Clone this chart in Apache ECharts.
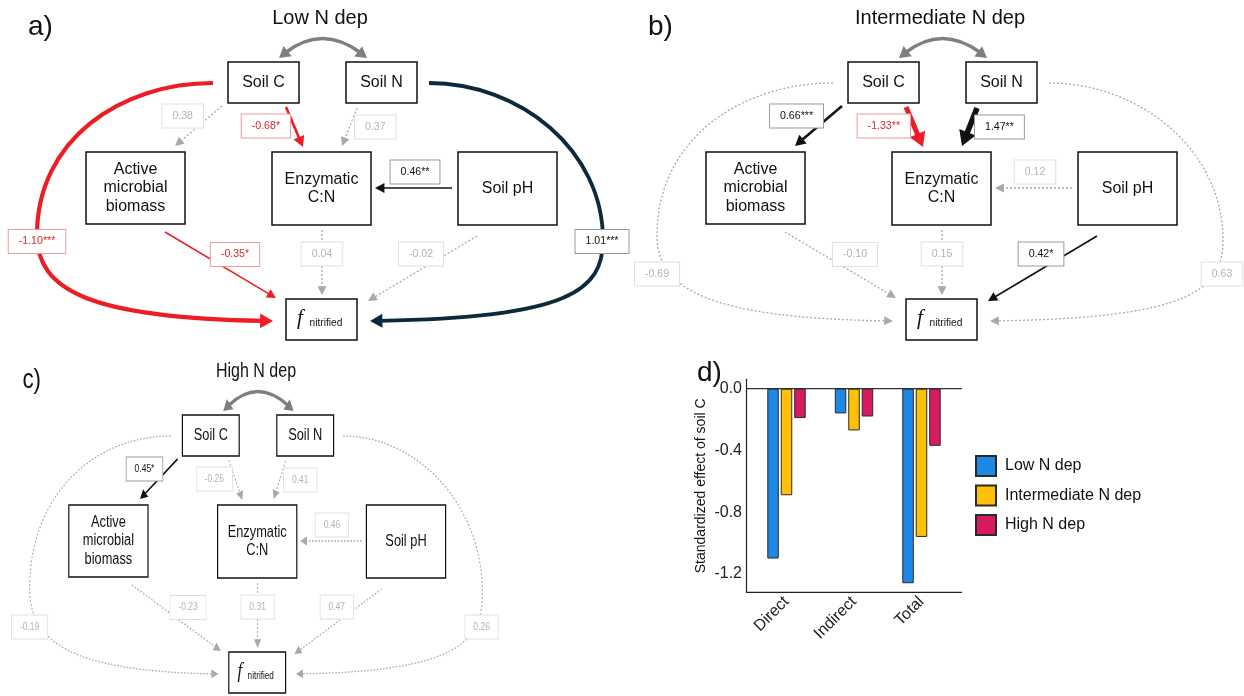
<!DOCTYPE html>
<html>
<head>
<meta charset="utf-8">
<script src="https://cdn.jsdelivr.net/npm/echarts@6/dist/echarts.min.js"></script>
<style>
  html, body { margin: 0; background: #fff; }
  #main { width: 1244px; height: 696px; }
</style>
</head>
<body>
<div id="main"></div>
<script>
// ---- panel d: standardized effect of soil C
const effectTypes = ['Direct', 'Indirect', 'Total']
const lowNdep = [-1.10, -0.16, -1.26]
const intermediateNdep = [-0.69, -0.27, -0.96]
const highNdep = [-0.19, -0.18, -0.37]
const yTicks = [0, -0.4, -0.8, -1.2]

// ---- panels a-c: path coefficients, same order as pathList
const pathList = ['C-AMB', 'C-Enz', 'N-Enz', 'pH-Enz', 'AMB-f', 'Enz-f', 'pH-f', 'C-f', 'N-f']
const lowCoef = [0.38, -0.68, 0.37, 0.46, -0.35, 0.04, -0.02, -1.10, 1.01]
const lowSig = ['', '*', '', '**', '*', '', '', '***', '***']
const intCoef = [0.66, -1.33, 1.47, 0.12, -0.10, 0.15, 0.42, -0.69, 0.63]
const intSig = ['***', '**', '**', '', '', '', '*', '', '']
const highCoef = [0.45, -0.26, 0.41, 0.46, -0.23, 0.31, 0.47, -0.19, 0.26]
const highSig = ['*', '', '', '', '', '', '', '', '']

const FONT = '"Liberation Sans", Arial, Helvetica, sans-serif'

// diagram layout (panel a coordinates)
const nodes = [
  { x: 228, y: 62, w: 71, h: 41, text: 'Soil C' },
  { x: 346, y: 62, w: 71, h: 41, text: 'Soil N' },
  { x: 86, y: 152, w: 99, h: 72, text: 'Active\nmicrobial\nbiomass' },
  { x: 272, y: 152, w: 99, h: 73, text: 'Enzymatic\nC:N' },
  { x: 458, y: 152, w: 99, h: 73, text: 'Soil pH' },
  { x: 286, y: 299, w: 71, h: 41, text: '' }
]
const edgeGeom = [
  { line: [222, 106, 175, 146], lx: 203, ly: 116, anchor: 'right' },
  { line: [286, 107, 303, 147], lx: 290, ly: 126, anchor: 'right' },
  { line: [357, 108, 342, 146], lx: 355, ly: 127, anchor: 'left' },
  { line: [452, 188, 375, 188], lx: 415, ly: 172, anchor: 'center' },
  { line: [165, 232, 276, 298], lx: 235, ly: 254.5, anchor: 'center' },
  { line: [322, 230, 322, 295], lx: 322, ly: 254, anchor: 'center' },
  { line: [477, 236, 368, 301], lx: 421, ly: 254, anchor: 'center' },
  { curve: [[213, 83, 120, 83, 37, 140, 37, 235], [37, 235, 37, 290, 90, 318, 273, 321]], lx: 37, anchor: 'center' },
  { curve: [[429, 83, 520, 83, 603, 150, 603, 240], [603, 240, 603, 290, 570, 318, 370, 321]], lx: 602, anchor: 'center' }
]

const panels = [
  { coef: lowCoef, sig: lowSig, title: 'Low N dep', letter: 'a)', x: 0, y: 0, sx: 1, curveLabelY: 241.5, override: { 8: '#0E2A3A' } },
  { coef: intCoef, sig: intSig, title: 'Intermediate N dep', letter: 'b)', x: 620, y: 0, sx: 1, curveLabelY: 274, override: {} },
  { coef: highCoef, sig: highSig, title: 'High N dep', letter: 'c)', x: 0, y: 353, sx: 0.8, curveLabelY: 274, override: {} }
]

function text(x, y, str, font, color, align, vAlign, extra) {
  return {
    type: 'text', x: x, y: y,
    style: Object.assign({
      text: str, font: font, fill: color,
      align: align, textAlign: align, verticalAlign: vAlign, textVerticalAlign: vAlign
    }, extra || {})
  }
}

function arrowHead(tx, ty, fx, fy, len, hw, color) {
  const dx = tx - fx, dy = ty - fy, d = Math.hypot(dx, dy)
  const ux = dx / d, uy = dy / d
  const bx = tx - ux * len, by = ty - uy * len
  return {
    type: 'polygon',
    shape: { points: [[tx, ty], [bx - uy * hw, by + ux * hw], [bx + uy * hw, by - ux * hw]] },
    style: { fill: color }
  }
}

function edgeLook(coef, sig, override) {
  if (!sig) {
    return { color: '#A9A9A9', width: 1.3, dash: [2, 2], text: '#B3B3B3', border: '#E0E0E0' }
  }
  const neg = coef < 0
  return {
    color: override || (neg ? '#EE1C24' : '#111'),
    width: Math.max(1.5, 3.8 * Math.abs(coef)),
    dash: null,
    text: neg ? '#D42A2A' : '#111',
    border: neg ? '#EB9B9B' : '#9A9A9A'
  }
}

function strokeStyle(look) {
  return { stroke: look.color, lineWidth: look.width, lineDash: look.dash, fill: 'none' }
}

function buildPanel(p) {
  const lines = [], labels = []
  edgeGeom.forEach((g, i) => {
    const look = edgeLook(p.coef[i], p.sig[i], p.override[i])
    const len = 7 + 1.4 * look.width, hw = 3.2 + look.width
    if (g.line) {
      const [x1, y1, x2, y2] = g.line
      const d = Math.hypot(x2 - x1, y2 - y1), ux = (x2 - x1) / d, uy = (y2 - y1) / d
      lines.push({ type: 'line', shape: { x1: x1, y1: y1, x2: x2 - ux * len * 0.8, y2: y2 - uy * len * 0.8 }, style: strokeStyle(look) })
      lines.push(arrowHead(x2, y2, x1, y1, len, hw, look.color))
    } else {
      const [s1, s2] = g.curve
      lines.push({ type: 'bezierCurve', shape: { x1: s1[0], y1: s1[1], cpx1: s1[2], cpy1: s1[3], cpx2: s1[4], cpy2: s1[5], x2: s1[6], y2: s1[7] }, style: strokeStyle(look) })
      const tx = s2[6], ty = s2[7], fx = s2[4], fy = s2[5]
      const d = Math.hypot(tx - fx, ty - fy), ux = (tx - fx) / d, uy = (ty - fy) / d
      lines.push({ type: 'bezierCurve', shape: { x1: s2[0], y1: s2[1], cpx1: s2[2], cpy1: s2[3], cpx2: s2[4], cpy2: s2[5], x2: tx - ux * len * 0.8, y2: ty - uy * len * 0.8 }, style: strokeStyle(look) })
      lines.push(arrowHead(tx, ty, fx, fy, len, hw, look.color))
    }
    const ly = g.curve ? p.curveLabelY : g.ly
    labels.push(text(g.lx, ly, p.coef[i].toFixed(2) + p.sig[i], '10.6px ' + FONT, look.text, g.anchor, 'middle', {
      backgroundColor: '#fff', borderColor: look.border, borderWidth: 1, padding: [6, 10]
    }))
  })

  // correlation between soil C and soil N
  const corr = [285, 53, 322, 24, 361, 53]
  const grey = '#7F7F7F'
  const corrEls = [
    { type: 'bezierCurve', shape: { x1: corr[0], y1: corr[1], cpx1: corr[2], cpy1: corr[3], x2: corr[4], y2: corr[5] }, style: { stroke: grey, lineWidth: 3.5, fill: 'none' } },
    arrowHead(279, 58, corr[2], corr[3], 11, 6.5, grey),
    arrowHead(367, 58, corr[2], corr[3], 11, 6.5, grey)
  ]

  const boxes = []
  nodes.forEach(n => {
    boxes.push({ type: 'rect', shape: { x: n.x, y: n.y, width: n.w, height: n.h }, style: { fill: '#fff', stroke: '#111', lineWidth: 1.5 } })
    if (n.text) {
      boxes.push(text(n.x + n.w / 2, n.y + n.h / 2, n.text, '16px ' + FONT, '#111', 'center', 'middle', { lineHeight: 18.7 }))
    }
  })
  const fn = nodes[5]
  boxes.push(text(fn.x + 11, fn.y + 19.5, 'f', 'italic 21px "Liberation Serif", "Times New Roman", serif', '#111', 'left', 'middle'))
  boxes.push(text(fn.x + 23.5, fn.y + 29.5, 'nitrified', '10.2px ' + FONT, '#111', 'left', 'bottom'))

  const heads = [
    text(28, 27, p.letter, '28px ' + FONT, '#111', 'left', 'middle'),
    text(320, 18.5, p.title, '20px ' + FONT, '#111', 'center', 'middle')
  ]

  return {
    type: 'group', x: p.x, y: p.y, scaleX: p.sx, scaleY: 1,
    children: lines.concat(corrEls, boxes, labels, heads)
  }
}

const chart = echarts.init(document.getElementById('main'))

const seriesNames = ['Low N dep', 'Intermediate N dep', 'High N dep']
const seriesData = [lowNdep, intermediateNdep, highNdep]
const barColors = ['#1E88E5', '#FFC107', '#D81B60']

chart.setOption({
  animation: false,
  textStyle: { fontFamily: FONT },
  grid: { left: 752.75, top: 379.3, width: 202.5, height: 213, containLabel: false, outerBoundsMode: 'none' },
  legend: {
    orient: 'vertical', left: 975, top: 455, padding: 0,
    itemWidth: 20, itemHeight: 20, itemGap: 7.5, icon: 'rect',
    textStyle: { fontSize: 16, color: '#111', padding: [0, 0, 0, 4] },
    data: seriesNames
  },
  xAxis: {
    type: 'category', data: effectTypes,
    axisLine: { show: false },
    axisTick: { show: true, alignWithLabel: true, length: 4, lineStyle: { color: '#333' } },
    axisLabel: { rotate: 45, fontSize: 16, color: '#222', margin: 7, interval: 0 },
    splitLine: { show: false }
  },
  yAxis: {
    type: 'value', min: -1.3187, max: 0.061, offset: 6.75,
    axisLine: { show: true, lineStyle: { color: '#222', width: 1.2 } },
    axisTick: { show: false },
    splitLine: { show: false },
    axisLabel: { customValues: yTicks, formatter: v => v.toFixed(1), fontSize: 16, color: '#222', margin: 4 },
    name: 'Standardized effect of soil C', nameLocation: 'middle', nameGap: 38,
    nameTextStyle: { fontSize: 14, color: '#111' }
  },
  series: seriesNames.map((name, i) => ({
    name: name, type: 'bar', data: seriesData[i],
    barWidth: 11.5, barGap: '17%',
    itemStyle: { color: barColors[i], borderColor: '#2a2a2a', borderWidth: 1 }
  }))
})

// zero reference line and x axis line across the full panel width
const zeroY = chart.convertToPixel({ yAxisIndex: 0 }, 0)
const baseY = chart.convertToPixel({ yAxisIndex: 0 }, -1.3187)

const graphics = panels.map(buildPanel)
graphics.push(
  { type: 'line', shape: { x1: 746, y1: zeroY, x2: 962, y2: zeroY }, style: { stroke: '#333', lineWidth: 1.2 } },
  { type: 'line', shape: { x1: 746, y1: baseY, x2: 962, y2: baseY }, style: { stroke: '#222', lineWidth: 1.2 } },
  text(697, 373, 'd)', '28px ' + FONT, '#111', 'left', 'middle')
)

chart.setOption({ graphic: graphics })
</script>
</body>
</html>
